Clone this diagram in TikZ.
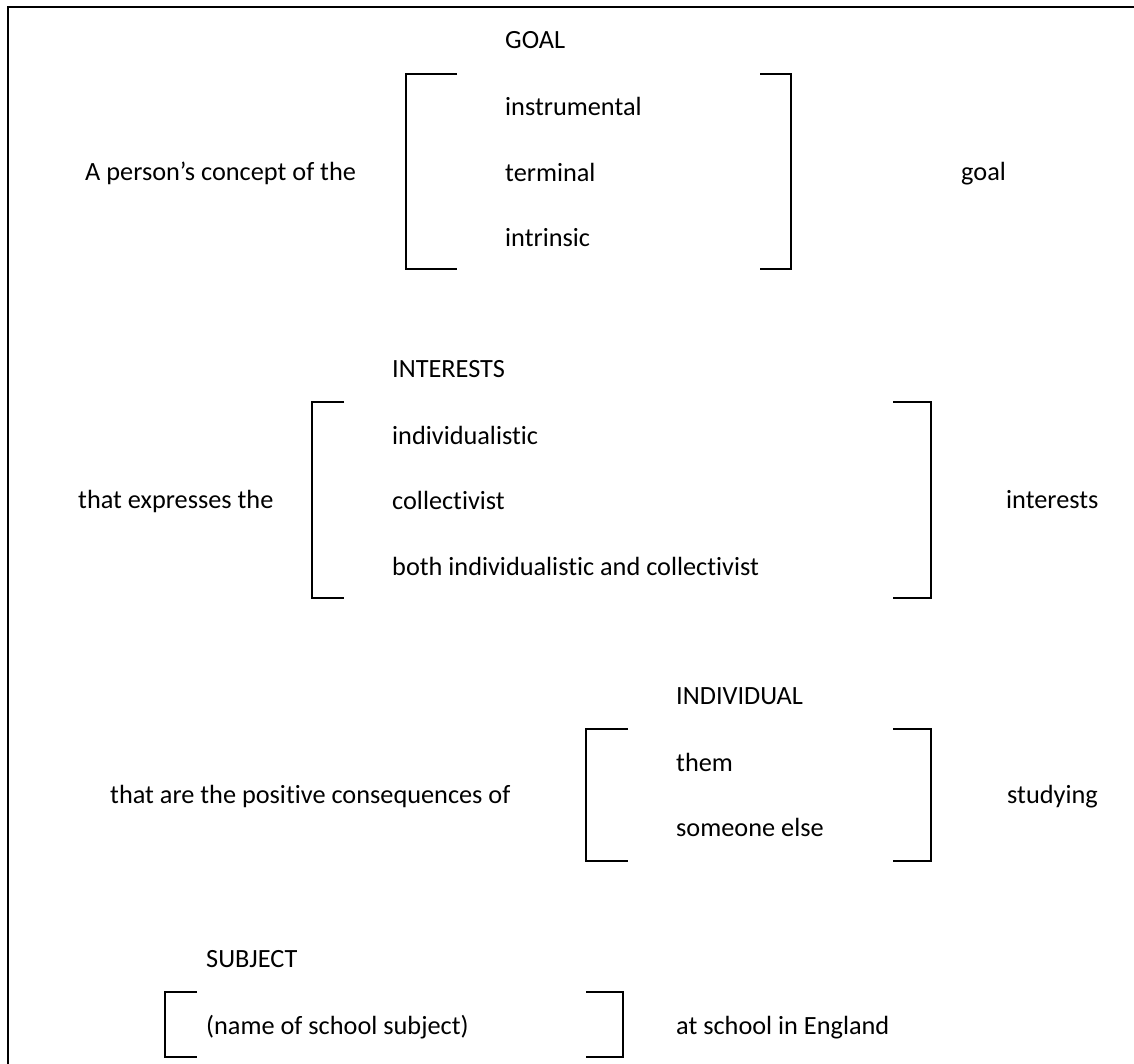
\documentclass[tikz,border=0pt]{standalone}
\usepackage{fontspec}
\setmainfont{Carlito}[Ligatures={NoCommon}]
\usepackage{tikz}

\begin{document}
\begin{tikzpicture}[x=1pt,y=-1pt,
  every node/.style={font=\fontsize{26.3}{31}\selectfont, inner sep=0pt, anchor=base west},
  bracket/.style={line width=2.2pt},
]
\useasboundingbox (0,0) rectangle (1134,1064);
\draw[bracket] (8,1064) -- (8,7) -- (1134,7);

% goal
\node (goalhead) at (505,49) {GOAL};
\foreach \t [count=\i] in {instrumental,terminal,intrinsic}
  \node (goal\i) at (505,50.5+65.5*\i) {\t};
\draw[bracket] (457,74) -| (406,269) -- (457,269);
\draw[bracket] (760,74) -| (791,269) -- (760,269);
\node (goalpre) at (85,180.5) {A person’s concept of the};
\node (goalpost) at (961,180.5) {goal};

% interests
\node (inthead) at (392,377) {INTERESTS};
\foreach \t [count=\i] in {individualistic,collectivist,both individualistic and collectivist}
  \node (int\i) at (392,378.5+65.5*\i) {\t};
\draw[bracket] (344,402) -| (312,598) -- (344,598);
\draw[bracket] (893,402) -| (931,598) -- (893,598);
\node (intpre) at (78,508) {that expresses the};
\node (intpost) at (1006,508) {interests};

% individual
\node (indhead) at (676,704) {INDIVIDUAL};
\foreach \t [count=\i] in {them,someone else}
  \node (ind\i) at (676,705.5+65.5*\i) {\t};
\draw[bracket] (628,729) -| (586,861) -- (628,861);
\draw[bracket] (893,729) -| (931,861) -- (893,861);
\node (indpre) at (110,803) {that are the positive consequences of};
\node (indpost) at (1007,803) {studying};

% subject
\node (subhead) at (206,967) {SUBJECT};
\node (sub1) at (206,1034) {(name of school subject)};
\draw[bracket] (197,992) -| (165,1057) -- (197,1057);
\draw[bracket] (586,992) -| (623,1057) -- (586,1057);
\node (subpost) at (676,1034) {at school in England};
\end{tikzpicture}
\end{document}
